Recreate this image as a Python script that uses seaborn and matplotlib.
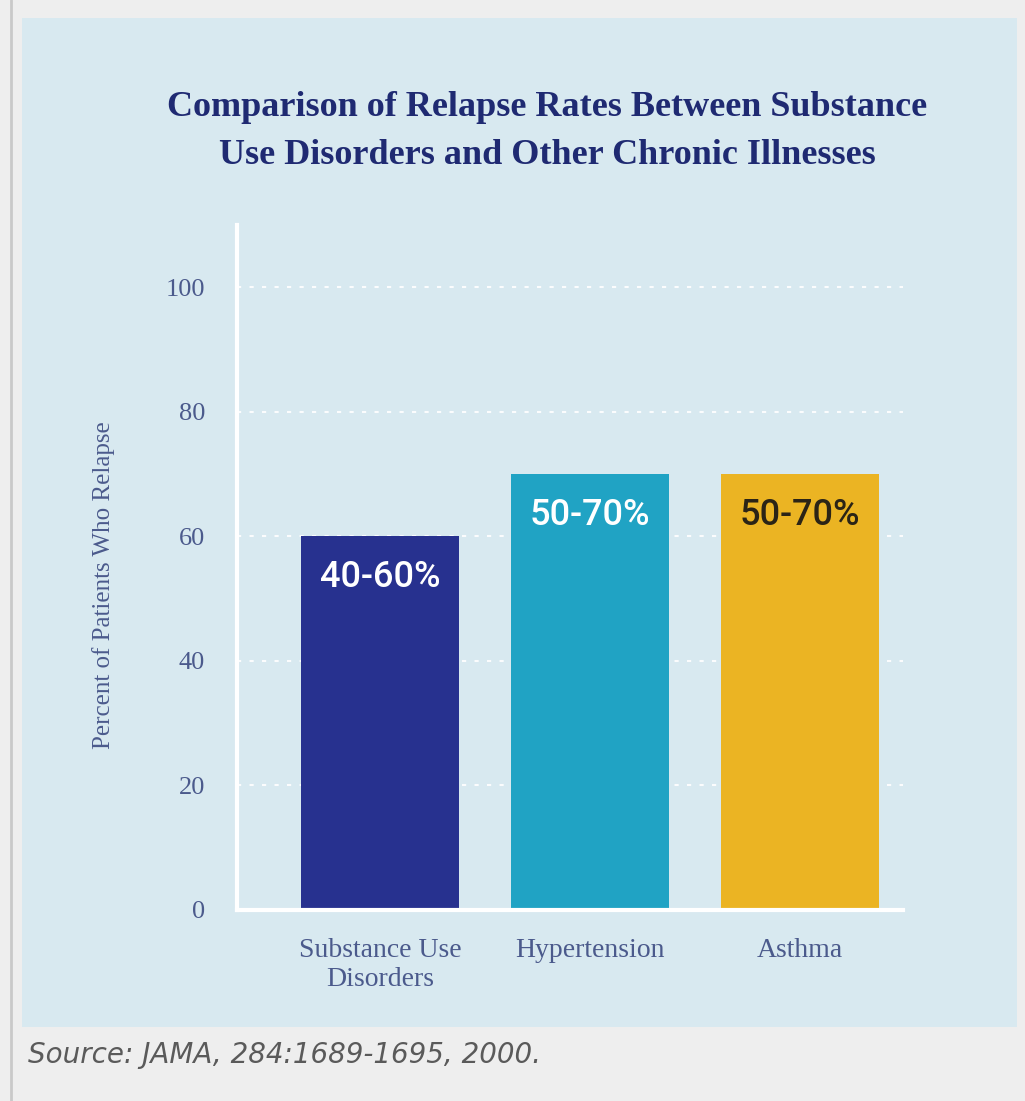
import numpy as np
import pandas as pd
import matplotlib
matplotlib.use("Agg")
import matplotlib.pyplot as plt
import seaborn as sns
from matplotlib.patches import Rectangle
from matplotlib.lines import Line2D

categories = ["Substance Use\nDisorders", "Hypertension", "Asthma"]
upper_rates = [60, 70, 70]
range_labels = ["40-60%", "50-70%", "50-70%"]
bar_colors = ["#27318f", "#20a3c4", "#ebb423"]
label_colors = ["white", "white", "#2b2416"]
y_ticks = [0, 20, 40, 60, 80, 100]

df = pd.DataFrame({"condition": categories, "rate": upper_rates})

sns.set_style("white")
plt.rcParams["font.family"] = ["Liberation Serif", "DejaVu Serif"]

navy = "#1f2a72"
tick_col = "#4b5a8c"
panel = "#d8e9f0"

fig = plt.figure(figsize=(10.25, 11.01), dpi=100, facecolor="#eeeeee")
# light blue panel and thin left border
fig.patches.append(Rectangle((22 / 1025, 1 - 1027 / 1101), (1017 - 22) / 1025, (1027 - 18) / 1101,
                             transform=fig.transFigure, facecolor=panel, edgecolor="none", zorder=-5))
fig.lines.append(Line2D([11 / 1025, 11 / 1025], [0, 1], transform=fig.transFigure,
                        color="#c9c9c9", linewidth=2, zorder=-5))

ax = fig.add_axes([237 / 1025, 191 / 1101, 666 / 1025, 685 / 1101])
ax.set_facecolor("none")
ax.set_zorder(2)

sns.barplot(data=df, x="condition", y="rate", hue="condition", palette=bar_colors,
            width=0.75, legend=False, ax=ax, saturation=1, linewidth=0)

ax.set_ylim(0, 110)
ax.set_xlim(-0.68, 2.49)
ax.set_yticks(y_ticks)
ax.set_yticklabels([str(t) for t in y_ticks], fontsize=19, color=tick_col)
ax.tick_params(axis="y", length=0, pad=23)
ax.tick_params(axis="x", length=0, pad=20, labelsize=20, labelcolor=tick_col)
ax.set_xlabel("")
ax.set_ylabel("Percent of Patients Who Relapse", fontsize=18, color=tick_col)
ax.yaxis.set_label_coords(-0.183, 0.474)

for t in y_ticks[1:]:
    ax.axhline(t, color="white", linewidth=1.5, linestyle=(0, (2, 4)), alpha=0.9, zorder=0.5)

for side in ["top", "right"]:
    ax.spines[side].set_visible(False)
for side in ["left", "bottom"]:
    ax.spines[side].set_color("white")
    ax.spines[side].set_linewidth(3)

for i, (val, lab, col) in enumerate(zip(upper_rates, range_labels, label_colors)):
    ax.text(i, val - 6.6, lab, ha="center", va="center", fontsize=26, fontweight="medium",
            color=col, family=["Roboto", "DejaVu Sans"])

fig.text(547 / 1025, 1 - 132 / 1101,
         "Comparison of Relapse Rates Between Substance\nUse Disorders and Other Chronic Illnesses",
         ha="center", va="center", fontsize=26, fontweight="bold", color=navy, linespacing=1.6)

fig.text(28 / 1025, 1 - 1055 / 1101, "Source: JAMA, 284:1689-1695, 2000.",
         ha="left", va="center", fontsize=20, style="italic", color="#5a5a5a",
         family=["DejaVu Sans"])

fig.savefig("out.png", dpi=100, facecolor=fig.get_facecolor())
